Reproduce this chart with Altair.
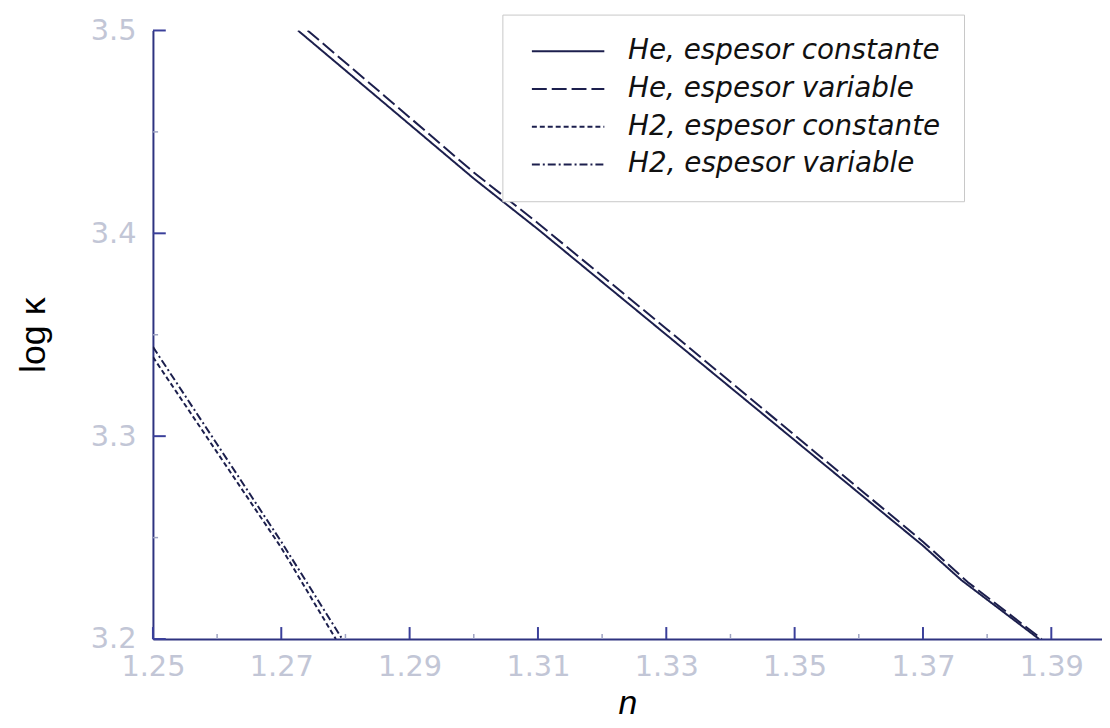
import altair as alt
import pandas as pd

# ---------------- data ----------------
series_names = [
    "He, espesor constante",
    "He, espesor variable",
    "H2, espesor constante",
    "H2, espesor variable",
]

he_const_n = [1.2726, 1.285, 1.300, 1.310, 1.330, 1.350, 1.370, 1.376, 1.3881]
he_const_k = [3.500, 3.467, 3.427, 3.402, 3.350, 3.298, 3.246, 3.229, 3.200]

he_var_n = [1.2741, 1.286, 1.300, 1.310, 1.330, 1.350, 1.370, 1.377, 1.3885]
he_var_k = [3.500, 3.468, 3.430, 3.405, 3.353, 3.3005, 3.248, 3.228, 3.200]

h2_const_n = [1.250, 1.260, 1.270, 1.2785]
h2_const_k = [3.339, 3.292, 3.245, 3.200]

h2_var_n = [1.250, 1.260, 1.270, 1.2795]
h2_var_k = [3.344, 3.296, 3.248, 3.200]

x_major = [1.25, 1.27, 1.29, 1.31, 1.33, 1.35, 1.37, 1.39]
x_minor = [1.26, 1.28, 1.30, 1.32, 1.34, 1.36, 1.38]
y_major = [3.2, 3.3, 3.4, 3.5]
y_minor = [3.25, 3.35, 3.45]

X_DOMAIN = [1.25, 1.3979]
Y_DOMAIN = [3.2, 3.5]

# ---------------- styles ----------------
NAVY = "#1c1f4d"
AXIS = "#2e3380"
TICK_MAJ = "#3a3f9a"
TICK_MIN = "#9ea3c2"
LABEL = "#c2c6d6"

# ---------------- tables ----------------
rows = []
for name, xs, ys in [
    (series_names[0], he_const_n, he_const_k),
    (series_names[1], he_var_n, he_var_k),
    (series_names[2], h2_const_n, h2_const_k),
    (series_names[3], h2_var_n, h2_var_k),
]:
    for xv, yv in zip(xs, ys):
        rows.append({"serie": name, "n": xv, "k": yv})
df = pd.DataFrame(rows)

# inward tick lengths expressed in data units
XT_MAJ = 0.0059
XT_MIN = 0.0025
YT_MAJ = 0.0020
YT_MIN = 0.0008

df_xmaj = pd.DataFrame({"x": x_major, "y0": Y_DOMAIN[0], "y1": Y_DOMAIN[0] + XT_MAJ})
df_xmin = pd.DataFrame({"x": x_minor, "y0": Y_DOMAIN[0], "y1": Y_DOMAIN[0] + XT_MIN})
df_ymaj = pd.DataFrame({"y": y_major, "x0": X_DOMAIN[0], "x1": X_DOMAIN[0] + YT_MAJ})
df_ymin = pd.DataFrame({"y": y_minor, "x0": X_DOMAIN[0], "x1": X_DOMAIN[0] + YT_MIN})

x_scale = alt.Scale(domain=X_DOMAIN, nice=False, zero=False)
y_scale = alt.Scale(domain=Y_DOMAIN, nice=False, zero=False)

x_axis = alt.Axis(
    values=x_major, format=".2f", ticks=False, grid=False,
    domainColor=AXIS, domainWidth=2,
    labelFont="DejaVu Sans", labelFontSize=29, labelColor=LABEL,
    labelPadding=14, labelFlush=False,
    title="n", titleFont="Liberation Sans", titleFontStyle="italic",
    titleFontWeight="normal", titleFontSize=34, titleColor="#000000",
    titlePadding=5,
)
y_axis = alt.Axis(
    values=y_major, format=".1f", ticks=False, grid=False,
    domainColor=AXIS, domainWidth=2,
    labelFont="DejaVu Sans", labelFontSize=29, labelColor=LABEL,
    labelPadding=17, labelFlush=False,
    title="log κ", titleFont="Liberation Sans", titleFontWeight="normal",
    titleFontSize=36, titleColor="#000000", titlePadding=38,
)

lines = alt.Chart(df).mark_line(strokeWidth=2, color=NAVY, clip=True).encode(
    x=alt.X("n:Q", scale=x_scale, axis=x_axis),
    y=alt.Y("k:Q", scale=y_scale, axis=y_axis),
    strokeDash=alt.StrokeDash(
        "serie:N",
        scale=alt.Scale(domain=series_names,
                        range=[[1, 0], [15, 5], [5, 3], [8, 3, 2, 3]]),
        legend=alt.Legend(
            orient="none", legendX=352, legendY=-16, title=None,
            symbolType="M-5,0H5", symbolSize=213, symbolStrokeWidth=2,
            symbolStrokeColor=NAVY, symbolOffset=29.2, labelOffset=46.4,
            labelFont="DejaVu Sans", labelFontStyle="italic", labelFontSize=28,
            labelColor="#111111", labelLimit=500, rowPadding=10, padding=23,
            fillColor="white", strokeColor="#c8c8c8",
        ),
    ),
    detail="serie:N",
)

xmaj = alt.Chart(df_xmaj).mark_rule(color=TICK_MAJ, strokeWidth=2).encode(
    x=alt.X("x:Q", scale=x_scale, axis=x_axis),
    y=alt.Y("y0:Q", scale=y_scale, axis=y_axis), y2="y1:Q",
)
xmin = alt.Chart(df_xmin).mark_rule(color=TICK_MIN, strokeWidth=1.5).encode(
    x=alt.X("x:Q", scale=x_scale, axis=x_axis),
    y=alt.Y("y0:Q", scale=y_scale, axis=y_axis), y2="y1:Q",
)
ymaj = alt.Chart(df_ymaj).mark_rule(color=TICK_MAJ, strokeWidth=2).encode(
    x=alt.X("x0:Q", scale=x_scale, axis=x_axis), x2="x1:Q",
    y=alt.Y("y:Q", scale=y_scale, axis=y_axis),
)
ymin = alt.Chart(df_ymin).mark_rule(color=TICK_MIN, strokeWidth=1.5).encode(
    x=alt.X("x0:Q", scale=x_scale, axis=x_axis), x2="x1:Q",
    y=alt.Y("y:Q", scale=y_scale, axis=y_axis),
)

chart = alt.layer(lines, xmaj, xmin, ymaj, ymin).properties(
    width=956, height=613,
    autosize=alt.AutoSizeParams(type="none"),
    padding={"left": 146, "top": 20, "right": 0, "bottom": 88},
    background="white",
).configure_view(stroke=None)

chart.save("out.html", embed_options={"renderer": "svg", "actions": False})
